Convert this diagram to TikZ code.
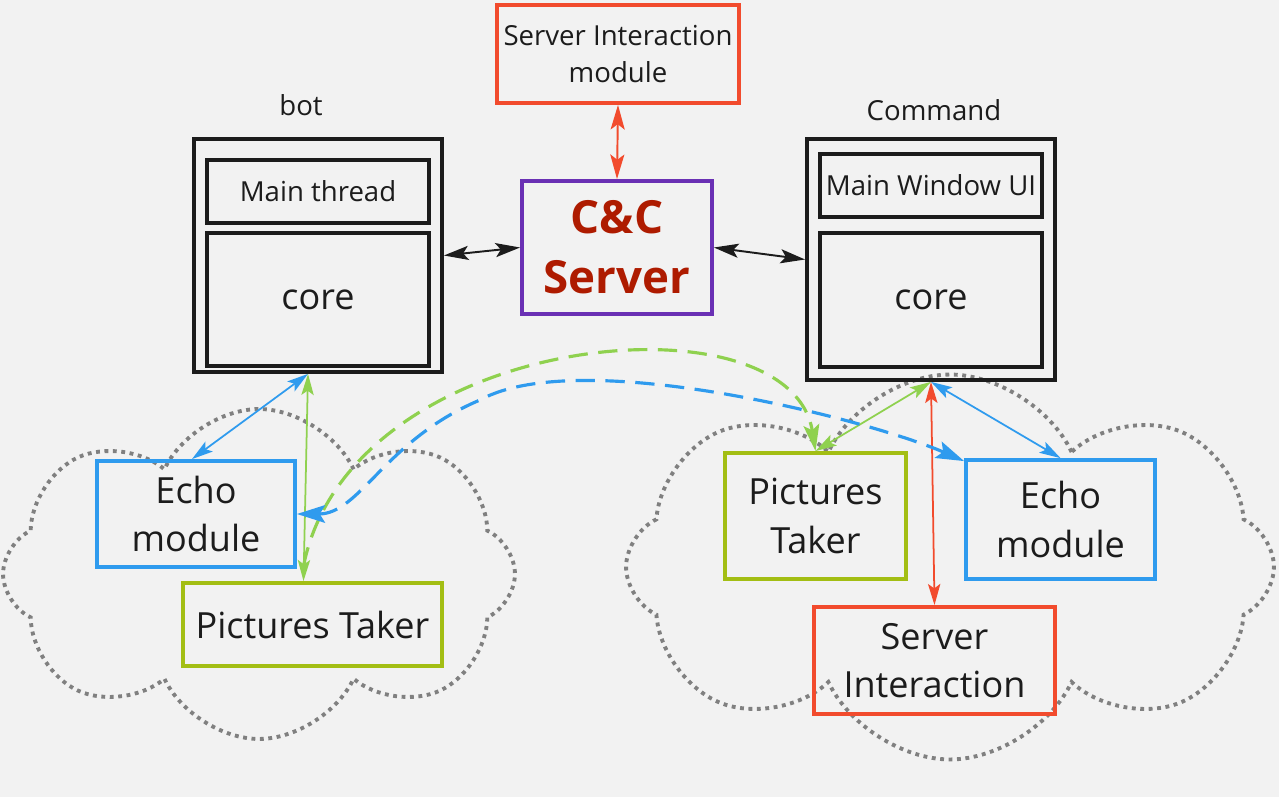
\documentclass[tikz,border=0pt]{standalone}
\usepackage{fontspec}
\setmainfont{Open Sans}
\usepackage{tikz}
\usetikzlibrary{arrows.meta,shapes.symbols}

\definecolor{bgc}{HTML}{F2F2F2}
\definecolor{ink}{HTML}{1C1C1C}
\definecolor{srvred}{HTML}{F24B2D}
\definecolor{cncpurple}{HTML}{6A30B4}
\definecolor{cnctext}{HTML}{AE1B00}
\definecolor{echoblue}{HTML}{2F9BEE}
\definecolor{picgreen}{HTML}{A3BE14}
\definecolor{arrgreen}{HTML}{8FD14F}
\definecolor{dotgray}{HTML}{808080}

\begin{document}
\begin{tikzpicture}[x=0.02cm,y=-0.02cm,
    box/.style={draw=ink,line width=2.2pt,inner sep=0pt,align=center,text=ink},
    small/.style={font=\fontsize{15.7}{21.5}\selectfont},
    big/.style={font=\fontsize{20.5}{27.5}\selectfont},
    puff/.style={cloud,cloud puffs=8,cloud puff arc=130,cloud ignores aspect,
      draw=dotgray,line width=2.2pt,dash pattern=on 2.2pt off 2.6pt},
    link/.style={line width=1.1pt,{Stealth[length=14pt,width=8pt,inset=3pt]}-{Stealth[length=14pt,width=8pt,inset=3pt]}},
    thin/.style={line width=1pt,{Stealth[length=12pt,width=7pt,inset=2.5pt]}-{Stealth[length=12pt,width=7pt,inset=2.5pt]}},
    dashlink/.style={line width=1.8pt,dash pattern=on 11pt off 6pt}]

  \fill[bgc] (0,0) rectangle (1279,797);
  \useasboundingbox (0,0) rectangle (1279,797);

  % clouds
  \node[puff,minimum width=10.24cm,minimum height=6.6cm] (lcloud) at (259,574) {};
  \node[puff,minimum width=12.96cm,minimum height=7.7cm] (rcloud) at (950,567) {};

  % server
  \node[box,draw=srvred,small,minimum width=4.84cm,minimum height=1.96cm] (srvmod) at (618,54) {Server Interaction\\module};
  \node[box,draw=cncpurple,text=cnctext,font=\fontsize{26}{34}\selectfont\bfseries,
    minimum width=3.8cm,minimum height=2.66cm] (cnc) at (617,247.5) {C\&C\\Server};

  % bot
  \node[small,text=ink] (botlbl) at (301,105) {bot};
  \node[box,minimum width=4.96cm,minimum height=4.66cm] (bot) at (318,255.5) {};
  \node[box,small,minimum width=4.44cm,minimum height=1.26cm] (botmain) at (318,191.5) {Main thread};
  \node[box,big,minimum width=4.44cm,minimum height=2.66cm] (botcore) at (318,299.5) {core};

  % command
  \node[small,text=ink] (cmdlbl) at (934,110) {Command};
  \node[box,minimum width=4.96cm,minimum height=4.82cm] (cmd) at (931,259.5) {};
  \node[box,small,minimum width=4.44cm,minimum height=1.26cm] (cmdmain) at (931,185.5) {Main Window UI};
  \node[box,big,minimum width=4.44cm,minimum height=2.68cm] (cmdcore) at (931,300) {core};

  % bot modules
  \node[box,draw=echoblue,big,minimum width=3.96cm,minimum height=2.12cm] (lecho) at (196,514) {Echo\\module};
  \node[box,draw=picgreen,big,minimum width=5.18cm,minimum height=1.66cm] (lpic) at (312.5,624.5) {Pictures Taker};

  % command modules
  \node[box,draw=picgreen,big,minimum width=3.62cm,minimum height=2.52cm] (rpic) at (815.5,516) {Pictures\\Taker};
  \node[box,draw=echoblue,big,minimum width=3.78cm,minimum height=2.38cm] (recho) at (1060.5,519.5) {Echo\\module};
  \node[box,draw=srvred,big,minimum width=4.82cm,minimum height=2.14cm] (rsrv) at (934.5,660.5) {Server\\Interaction};

  \draw[link,ink] (bot.east) -- (cnc.west);
  \draw[link,ink] (cnc.east) -- (cmd.west);
  \draw[link,srvred] (srvmod.south) -- (cnc.north);

  \draw[thin,echoblue] ([xshift=-0.2cm]bot.south) -- ([xshift=-0.08cm]lecho.north);
  \draw[thin,arrgreen] ([xshift=-0.2cm]bot.south) -- ([xshift=-0.18cm]lpic.north);

  \draw[thin,arrgreen] (cmd.south) -- (rpic.north);
  \draw[thin,srvred] (cmd.south) -- (rsrv.north);
  \draw[thin,echoblue] (cmd.south) -- (recho.north);

  % cross links
  \draw[dashlink,arrgreen,-{Stealth[length=15pt,width=9pt,inset=3pt]}]
    ([xshift=-0.18cm,yshift=0.3cm]lpic.north) .. controls (350,330) and (790,290) .. (rpic.north);
  \draw[dashlink,echoblue,{Stealth[length=16pt,width=10pt,inset=3pt]}-{Stealth[length=16pt,width=10pt,inset=3pt]}]
    (lecho.east) .. controls (360,514) and (385,440) .. (480,400)
    .. controls (580,345) and (870,420) .. ([yshift=-0.06cm]recho.north west);
\end{tikzpicture}
\end{document}
